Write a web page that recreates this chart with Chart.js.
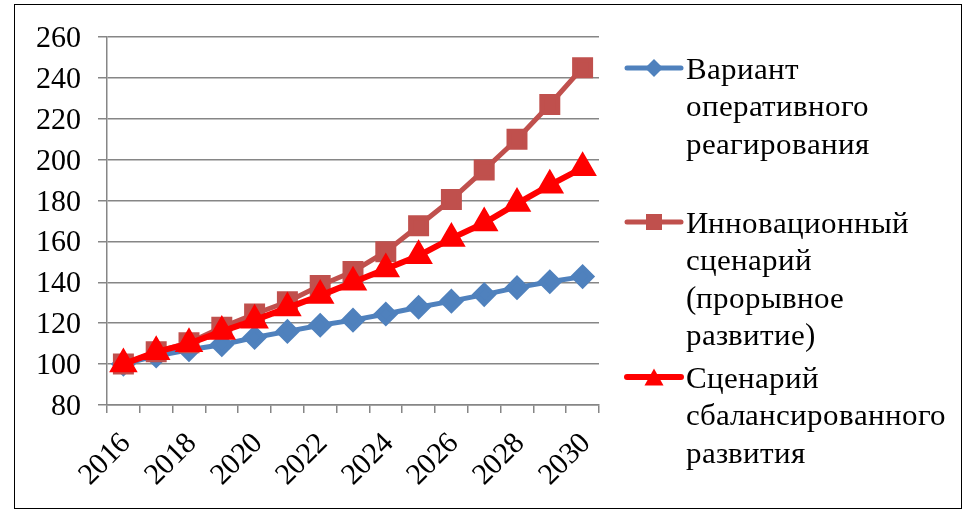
<!DOCTYPE html>
<html>
<head>
<meta charset="utf-8">
<script src="https://cdn.jsdelivr.net/npm/chart.js@4"></script>
<style>
  @font-face { font-family: "RefSerif"; src: local("Liberation Serif"), local("LiberationSerif"), local("Liberation Serif Regular"), local("LiberationSerif-Regular"); }
  html, body { margin: 0; padding: 0; background: #fff; }
  #wrap { width: 965px; height: 512px; position: relative; overflow: hidden; }
  #c { position: absolute; left: 0; top: 0; }
  .lbl { position: absolute; font-family: "RefSerif", "Liberation Serif", serif !important; color: #000; white-space: nowrap; }
  .ytick { font-size: 30px; line-height: 30px; text-align: right; width: 70px; }
  .xtick { font-size: 30px; line-height: 30px; transform-origin: 100% 50%; transform: translateY(-50%) rotate(-45deg); }
  .leg { font-size: 31px; line-height: 37.5px; left: 686px; }
  #frame { position: absolute; left: 14px; top: 4px; width: 946px; height: 503px; border: 1.5px solid #000; pointer-events: none; }
</style>
</head>
<body>
<div id="wrap">
  <canvas id="c" width="965" height="512"></canvas>
  <div id="frame"></div>
</div>
<script>
// ---- data ----
const years = ['2016','2017','2018','2019','2020','2021','2022','2023','2024','2025','2026','2027','2028','2029','2030'];
const operativeValues = [100, 104, 107, 109.5, 113, 116, 119, 121.5, 124.5, 127.8, 130.8, 134, 137.4, 140.3, 142.8];
const innovativeValues = [100, 106, 110.5, 118, 124.5, 130.5, 138.5, 145.3, 155, 167.7, 180.5, 195, 210, 227, 245];
const balancedValues = [100, 106, 110, 116, 121.5, 127.5, 133.5, 140, 146.5, 153, 161.5, 169, 178.5, 187.5, 196];
const seriesNames = ['Вариант оперативного реагирования', 'Инновационный сценарий (прорывное развитие)', 'Сценарий сбалансированного развития'];
const legendLines = [
  ['Вариант', 'оперативного', 'реагирования'],
  ['Инновационный', 'сценарий', '(прорывное', 'развитие)'],
  ['Сценарий', 'сбалансированного', 'развития']
];
const yTicks = [80, 100, 120, 140, 160, 180, 200, 220, 240, 260];
const xTickLabels = ['2016', '', '2018', '', '2020', '', '2022', '', '2024', '', '2026', '', '2028', '', '2030'];
const yMin = 80, yMax = 260, yStep = 20;

const colors = ['#4F81BD', '#C0504D', '#FF0000'];
const styles = ['rectRot', 'rect', 'triangle'];
const legendY = [68, 222, 377];

function drawMarker(ctx, style, x, y, color) {
  ctx.save();
  ctx.fillStyle = color;
  ctx.beginPath();
  if (style === 'rectRot') {
    const r = 9;
    ctx.moveTo(x, y - r); ctx.lineTo(x + r, y); ctx.lineTo(x, y + r); ctx.lineTo(x - r, y);
  } else if (style === 'rect') {
    const s = 8;
    ctx.rect(x - s, y - s, 2 * s, 2 * s);
  } else {
    const w = 9.5, h = 8.5;
    ctx.moveTo(x, y - h); ctx.lineTo(x + w, y + h); ctx.lineTo(x - w, y + h);
  }
  ctx.closePath();
  ctx.fill();
  ctx.restore();
}

const legendSymbols = {
  id: 'legendSymbols',
  afterDraw(chart) {
    const ctx = chart.ctx;
    ctx.save();
    chart.data.datasets.forEach((ds, i) => {
      const y = legendY[i];
      ctx.strokeStyle = colors[i];
      ctx.lineWidth = ds.borderWidth;
      ctx.lineCap = 'round';
      ctx.beginPath(); ctx.moveTo(627, y); ctx.lineTo(681, y); ctx.stroke();
      drawMarker(ctx, styles[i], 654, y, colors[i]);
    });
    ctx.restore();
  }
};

const chart = new Chart(document.getElementById('c'), {
  type: 'line',
  data: {
    labels: years,
    datasets: [
      { label: seriesNames[0], data: operativeValues, borderColor: colors[0], backgroundColor: colors[0],
        borderWidth: 5, pointStyle: 'rectRot', pointRadius: 9, pointHoverRadius: 9, order: 3 },
      { label: seriesNames[1], data: innovativeValues, borderColor: colors[1], backgroundColor: colors[1],
        borderWidth: 5, pointStyle: 'rect', pointRadius: 11.3, pointHoverRadius: 11.3, order: 2 },
      { label: seriesNames[2], data: balancedValues, borderColor: colors[2], backgroundColor: colors[2],
        borderWidth: 6, pointStyle: 'triangle', pointRadius: 10.5, pointHoverRadius: 10.5, order: 1 }
    ]
  },
  options: {
    responsive: false,
    animation: false,
    devicePixelRatio: 1,
    layout: { padding: { left: 0, right: 366, top: 37, bottom: 0 } },
    plugins: { legend: { display: false }, tooltip: { enabled: false } },
    elements: { line: { tension: 0 }, point: { borderWidth: 0 } },
    scales: {
      x: {
        offset: true,
        grid: { offset: true, drawOnChartArea: false, drawTicks: true, tickLength: 8, color: '#868686', lineWidth: 1.5 },
        border: { color: '#868686', width: 1.5 },
        ticks: { display: false, autoSkip: false },
        afterFit(scale) { scale.height = 107; }
      },
      y: {
        min: yMin, max: yMax,
        grid: { color: '#868686', lineWidth: 1.5, tickLength: 9 },
        border: { color: '#868686', width: 1.5 },
        ticks: { display: false, stepSize: yStep },
        afterFit(scale) { scale.width = 107; }
      }
    }
  },
  plugins: [legendSymbols]
});

// ---- text as HTML, positioned from the chart's own scales ----
const wrap = document.getElementById('wrap');
function addLabel(cls, text, css) {
  const d = document.createElement('div');
  d.className = 'lbl ' + cls;
  d.textContent = text;
  Object.assign(d.style, css);
  wrap.appendChild(d);
  return d;
}
const ys = chart.scales.y, xs = chart.scales.x;
yTicks.forEach(v => {
  const py = ys.getPixelForValue(v);
  addLabel('ytick', String(v), { left: (81 - 70) + 'px', top: (py - 15) + 'px' });
});
const xAnchorY = 437;
xTickLabels.forEach((t, i) => {
  if (!t) return;
  const px = xs.getPixelForValue(i);
  addLabel('xtick', t, { right: (965 - (px + 2)) + 'px', top: xAnchorY + 'px' });
});
const legendTop = [49.5, 203.5, 358.5];
legendLines.forEach((lines, i) => {
  const d = addLabel('leg', '', { top: legendTop[i] + 'px' });
  lines.forEach((ln, k) => {
    const s = document.createElement('div');
    s.textContent = ln;
    d.appendChild(s);
  });
});
</script>
</body>
</html>
